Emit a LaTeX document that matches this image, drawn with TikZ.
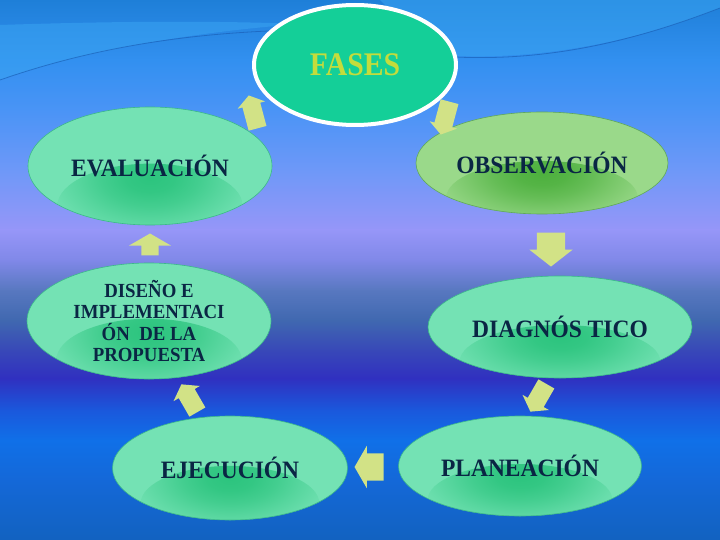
\documentclass[tikz,border=0pt]{standalone}
\usepackage{fontspec}
\setmainfont{Liberation Serif}
\usetikzlibrary{shapes.geometric,shapes.arrows}
\definecolor{g0}{HTML}{1E7FD8}
\definecolor{g1}{HTML}{3290F0}
\definecolor{g2}{HTML}{4A94F6}
\definecolor{g3}{HTML}{6E98F8}
\definecolor{g4}{HTML}{9696F8}
\definecolor{g5}{HTML}{8088E8}
\definecolor{g6}{HTML}{5878C0}
\definecolor{g7}{HTML}{4068B0}
\definecolor{g8}{HTML}{3848B8}
\definecolor{g9}{HTML}{3030C0}
\definecolor{g10}{HTML}{1A58DC}
\definecolor{g11}{HTML}{1070E8}
\definecolor{g12}{HTML}{1468D8}
\definecolor{g13}{HTML}{1262C0}
\definecolor{mint}{HTML}{74E2B4}
\definecolor{mintdk}{HTML}{2CC47E}
\definecolor{mintln}{HTML}{3CB88A}
\definecolor{lgreen}{HTML}{9AD98A}
\definecolor{lgreendk}{HTML}{4DB03E}
\definecolor{lgreenln}{HTML}{5FA85A}
\definecolor{fasesc}{HTML}{14CF98}
\definecolor{fasestxt}{HTML}{C4DC3C}
\definecolor{navy}{HTML}{0A2644}
\definecolor{arrowc}{HTML}{D2E286}
\definecolor{swooshc}{HTML}{3AA4F2}
\definecolor{swline}{HTML}{1A60B8}
\pgfdeclareradialshading{glowmint}{\pgfpoint{0bp}{0bp}}{%
  color(0bp)=(mintdk); color(5bp)=(mintdk!90!mint); color(10bp)=(mintdk!68!mint);
  color(15bp)=(mintdk!40!mint); color(20bp)=(mintdk!14!mint); color(25bp)=(mint); color(50bp)=(mint)}
\pgfdeclareradialshading{glowgreen}{\pgfpoint{0bp}{0bp}}{%
  color(0bp)=(lgreendk); color(5bp)=(lgreendk!90!lgreen); color(10bp)=(lgreendk!68!lgreen);
  color(15bp)=(lgreendk!40!lgreen); color(20bp)=(lgreendk!14!lgreen); color(25bp)=(lgreen); color(50bp)=(lgreen)}
\newcommand{\lbltext}[1]{\scalebox{0.94}[1]{#1}}
\begin{document}
\begin{tikzpicture}[x=1pt,y=-1pt,
  stage/.style n args={5}{ellipse, minimum width=#1, minimum height=#2, inner sep=0pt,
    fill=#3, draw=#5, line width=0.6pt,
    path picture={\shade[shading=#4]
      ([yshift=0.16*#2]path picture bounding box.south) ellipse ({0.38*#1} and {0.36*#2});}},
  lbl/.style={text=navy, font=\bfseries\fontsize{25}{28}\selectfont, align=center},
  lbls/.style={text=navy, font=\bfseries\fontsize{20}{21.5}\selectfont, align=center},
  blk/.style={single arrow, fill=arrowc, draw=none, inner xsep=0pt, single arrow tip angle=110}
]
\useasboundingbox (0,0) rectangle (720,540);
% background
\shade[top color=g0, bottom color=g1] (0,0) rectangle (720,60.5);
\shade[top color=g1, bottom color=g2] (0,60) rectangle (720,110.5);
\shade[top color=g2, bottom color=g3] (0,110) rectangle (720,170.5);
\shade[top color=g3, bottom color=g4] (0,170) rectangle (720,230.5);
\shade[top color=g4, bottom color=g5] (0,230) rectangle (720,260.5);
\shade[top color=g5, bottom color=g6] (0,260) rectangle (720,290.5);
\shade[top color=g6, bottom color=g7] (0,290) rectangle (720,320.5);
\shade[top color=g7, bottom color=g8] (0,320) rectangle (720,350.5);
\shade[top color=g8, bottom color=g9] (0,350) rectangle (720,378.5);
\shade[top color=g9, bottom color=g10] (0,378) rectangle (720,410.5);
\shade[top color=g10, bottom color=g11] (0,410) rectangle (720,440.5);
\shade[top color=g11, bottom color=g12] (0,440) rectangle (720,480.5);
\shade[top color=g12, bottom color=g13] (0,480) rectangle (720,540);
% swooshes
\fill[swooshc, opacity=0.55] (0,25) .. controls (90,22) and (200,20) .. (300,24)
  .. controls (220,30) and (100,45) .. (0,80) -- cycle;
\draw[swline, line width=0.8pt, opacity=0.7] (0,80) .. controls (100,45) and (200,32) .. (300,30);
\fill[swooshc, opacity=0.55] (380,0) -- (720,0) -- (720,8)
  .. controls (640,40) and (540,62) .. (440,55) .. controls (420,40) and (400,20) .. (380,0) -- cycle;
\draw[swline, line width=0.8pt, opacity=0.7] (455,57) .. controls (560,62) and (650,35) .. (720,8);
% stages
\node[ellipse, fill=fasesc, draw=white, line width=4pt, minimum width=202pt, minimum height=120pt]
  (fases) at (355,65) {};
\node[text=fasestxt, font=\bfseries\fontsize{33}{36}\selectfont] at (fases) {\scalebox{0.9}[1]{FASES}};
\node[stage={244pt}{118pt}{mint}{glowmint}{mintln}, label={[lbl]center:\lbltext{EVALUACIÓN}}] (eval) at (150,166) {};
\node[stage={252pt}{102pt}{lgreen}{glowgreen}{lgreenln}, label={[lbl]center:\lbltext{OBSERVACIÓN}}] (obs) at (542,163) {};
\node[stage={244pt}{116pt}{mint}{glowmint}{mintln}, label={[lbls]center:{\lbltext{DISEÑO E}\\\lbltext{IMPLEMENTACI}\\\lbltext{ÓN \ DE LA}\\\lbltext{PROPUESTA}}}] (dis) at (149,321) {};
\node[stage={264pt}{102pt}{mint}{glowmint}{mintln}, label={[lbl]center:\lbltext{DIAGNÓS TICO}}] (diag) at (560,327) {};
\node[stage={235pt}{104pt}{mint}{glowmint}{mintln}, label={[lbl]center:\lbltext{EJECUCIÓN}}] (ejec) at (230,468) {};
\node[stage={243pt}{100pt}{mint}{glowmint}{mintln}, label={[lbl]center:\lbltext{PLANEACIÓN}}] (plan) at (520,466) {};
% block arrows
\node[blk, minimum height=22pt, inner ysep=8.5pt, single arrow head extend=12.5pt, single arrow tip angle=120, rotate=90] (a1) at (150,247) {};
\node[blk, minimum height=34pt, inner ysep=14pt, single arrow head extend=7.5pt, single arrow tip angle=104, rotate=-90] (a2) at (551,244) {};
\node[blk, minimum height=29pt, inner ysep=13.5pt, single arrow head extend=7.5pt, single arrow tip angle=120, rotate=180] (a3) at (373,467) {};
\node[blk, minimum height=34pt, inner ysep=9pt, single arrow head extend=5pt, rotate=105] (a4) at (254,115) {};
\node[blk, minimum height=34pt, inner ysep=9pt, single arrow head extend=5pt, rotate=-105] (a5) at (446,115) {};
\node[blk, minimum height=32pt, inner ysep=9pt, single arrow head extend=6pt, rotate=120] (a6) at (191,401) {};
\node[blk, minimum height=32pt, inner ysep=9pt, single arrow head extend=6pt, rotate=-120] (a7) at (540,395) {};
\end{tikzpicture}
\end{document}
